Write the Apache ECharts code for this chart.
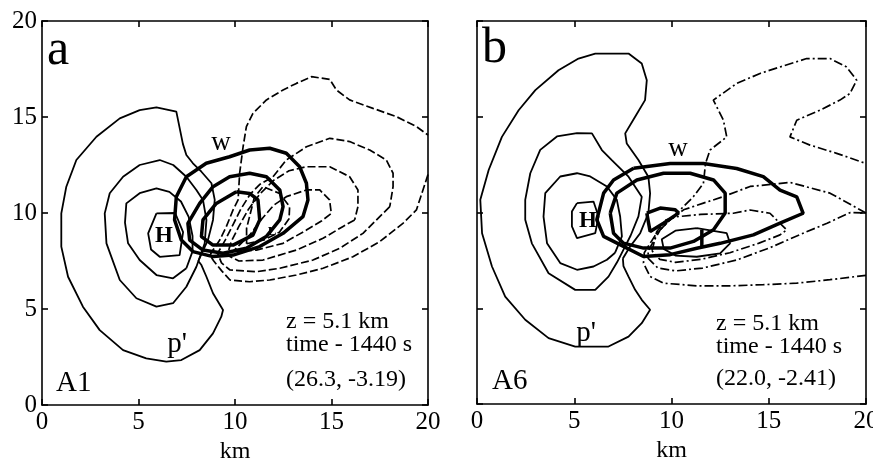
<!DOCTYPE html>
<html><head><meta charset="utf-8">
<script src="https://cdn.jsdelivr.net/npm/echarts@6/dist/echarts.min.js"></script>
<style>html,body{margin:0;padding:0;background:#fff}#c{width:873px;height:465px}</style>
</head><body><div id="c"></div>
<script>
// axis ticks
const xTicks = [0, 5, 10, 15, 20];
const yTicks = [0, 5, 10, 15, 20];

// ---- Panel a (A1): p' positive contours (solid thin), km coordinates
const pA1 = [[8.1,7.5],[8.6,8.6],[8.86,9.64],[8.95,10.68],[8.78,11.55],[8.26,12.15],[7.82,12.59],[7.48,13.02],[7.3,13.6],[6.96,15.28],[5.93,15.5],[5.06,15.36],[4.03,14.93],[2.82,13.97],[1.78,12.76],[1.26,11.37],[1.0,9.98],[1.0,8.25],[1.35,6.68],[2.12,5.12],[2.99,3.9],[4.2,2.86],[5.4,2.43],[6.44,2.26],[7.22,2.34],[8.17,2.86],[8.86,3.73],[9.29,4.6],[9.38,4.95],[8.86,5.82],[8.52,6.68],[8.26,7.29],[8.1,7.5]];
const pA2 = [[8.0,7.2],[8.43,8.42],[8.52,9.64],[8.34,10.68],[8.0,11.2],[7.48,11.89],[6.8,12.5],[6.1,12.76],[5.06,12.5],[4.2,11.89],[3.51,11.03],[3.25,9.98],[3.34,8.42],[4.03,6.51],[4.89,5.56],[5.93,5.12],[6.79,5.3],[7.48,6.16],[8.0,7.2]];
const pA3 = [[7.48,7.12],[7.8,8.0],[7.8,8.8],[7.6,9.8],[7.2,10.6],[6.6,11.1],[5.93,11.28],[5.06,11.03],[4.37,10.5],[4.3,9.5],[4.46,8.42],[5.06,7.55],[5.93,6.77],[6.79,6.6],[7.48,7.12]];
const pA4 = [[5.93,9.98],[6.9,10.0],[7.31,9.0],[7.13,7.81],[6.1,7.72],[5.65,8.1],[5.5,8.94],[5.93,9.98]];
// w contours (thick)
const wA1 = [[7.48,11.89],[6.96,10.85],[6.87,9.64],[7.22,8.59],[7.82,7.99],[8.86,7.73],[9.9,7.81],[11.28,8.25],[12.49,8.94],[13.52,9.81],[13.78,10.68],[13.7,11.55],[13.35,12.41],[12.66,13.11],[11.8,13.37],[10.76,13.28],[9.72,12.93],[8.51,12.59],[7.48,11.89]];
const wA2 = [[8.86,11.37],[8.17,10.5],[7.56,9.46],[7.65,8.59],[8.34,8.07],[9.38,7.9],[10.59,8.16],[11.62,8.77],[12.32,9.64],[12.49,10.33],[12.32,11.2],[11.63,11.89],[10.76,12.07],[9.72,11.89],[8.86,11.37]];
const wA3 = [[10.07,11.11],[9.03,10.5],[8.34,9.64],[8.26,8.77],[8.86,8.33],[9.9,8.33],[10.93,8.85],[11.28,9.64],[11.19,10.68],[10.76,11.02],[10.07,11.11]];
// negative p' contours (dashed)
const dA1 = [[20,12.0],[19.4,10.16],[18.7,9.46],[17.5,8.51],[16.11,7.72],[14.56,7.12],[13.18,6.77],[11.8,6.51],[10.76,6.42],[9.74,6.51],[9.3,7.0],[8.9,7.5],[8.7,7.8],[8.86,8.07],[9.21,8.59],[9.55,9.29],[9.9,10.16],[10.16,10.68],[10.24,12.07],[10.42,13.45],[10.59,14.5],[10.93,15.19],[11.63,15.89],[12.49,16.41],[13.18,16.75],[13.96,17.1],[14.91,16.96],[15.25,16.41],[15.94,15.89],[17.15,15.45],[18.36,15.02],[19.4,14.5],[20,14.06]];
const dA2 = [[18.02,10.33],[17.5,9.81],[16.63,8.94],[15.42,8.16],[14.04,7.55],[12.32,7.12],[11.11,6.94],[9.74,7.03],[9.3,7.4],[9.1,7.9],[9.5,8.6],[9.9,9.4],[10.3,10.2],[10.8,11.0],[11.3,11.5],[11.97,11.89],[12.66,12.76],[13.7,13.45],[14.91,13.89],[15.94,13.72],[16.98,13.28],[17.84,12.76],[18.19,12.07],[18.19,11.37],[18.02,10.33]];
const dA3 = [[16.2,9.64],[15.6,9.3],[14.56,8.68],[13.18,8.07],[11.45,7.55],[10.2,7.5],[9.6,7.8],[9.8,8.5],[10.2,9.3],[10.7,10.2],[11.3,11.0],[12.0,11.7],[12.8,12.2],[13.7,12.41],[14.91,12.41],[15.94,11.89],[16.37,11.2],[16.37,10.33],[16.2,9.64]];
const dA4 = [[9.9,8.0],[11.11,8.07],[12.49,8.42],[13.7,9.11],[14.5,9.6],[14.99,9.98],[14.9,10.68],[14.39,11.2],[13.7,11.2],[12.66,10.85],[12.0,10.4],[11.4,9.7],[10.8,8.9],[10.2,8.3],[9.9,8.0]];
const dA5 = [[10.6,8.4],[11.5,8.6],[12.3,9.0],[12.8,9.7],[12.83,10.33],[12.31,11.02],[11.45,11.37],[11.0,10.8],[10.8,10.0],[10.6,9.2],[10.6,8.4]];

// ---- Panel b (A6)
const pB1 = [[7.5,7.6],[7.87,8.22],[8.39,8.92],[8.81,9.96],[8.9,11.0],[8.81,11.87],[8.3,12.74],[7.7,13.6],[7.62,14.13],[8.13,15.0],[8.64,15.87],[8.73,16.91],[8.47,17.78],[7.79,18.3],[6.08,18.3],[5.22,18.04],[4.19,17.43],[3.0,16.39],[2.14,15.34],[1.28,13.95],[0.6,12.22],[0.17,10.66],[0.26,8.92],[0.77,7.18],[1.45,5.61],[2.48,4.4],[3.68,3.44],[5.05,3.0],[6.76,3.0],[7.79,3.52],[8.47,4.22],[8.9,4.92],[8.47,5.44],[8.13,5.96],[7.79,6.65],[7.53,7.2],[7.5,7.6]];
const pB2 = [[7.2,7.4],[7.5,8.0],[7.9,8.8],[8.3,9.8],[8.47,10.82],[7.79,11.87],[6.93,12.74],[6.42,13.26],[5.91,14.13],[5.14,14.14],[4.11,13.97],[3.25,13.27],[2.74,12.05],[2.48,10.66],[2.48,9.62],[2.82,8.39],[3.68,6.83],[5.05,5.96],[6.08,5.96],[6.76,6.65],[7.2,7.4]];
const pB3 = [[7.1,7.9],[7.45,8.75],[7.36,9.79],[7.19,10.66],[6.68,11.36],[5.82,11.88],[5.14,12.05],[4.28,11.88],[3.51,11.01],[3.42,9.79],[3.6,8.4],[4.28,7.36],[5.14,7.01],[5.99,7.18],[6.68,7.53],[7.1,7.9]];
const pB4 = [[5.14,10.49],[5.99,10.57],[6.25,9.79],[6.08,8.92],[5.14,8.66],[4.88,9.27],[4.88,10.05],[5.14,10.49]];
const pB5 = [[11.3,9.18],[12.84,8.92],[13.01,8.39],[12.5,7.87],[11.3,7.69],[10.2,7.75],[9.6,8.1],[9.5,8.6],[10.2,9.05],[11.3,9.18]];
const wB1 = [[8.05,12.31],[9.93,12.56],[11.64,12.56],[13.35,12.3],[14.72,11.87],[15.58,11.17],[16.44,10.82],[16.77,9.96],[15.58,9.44],[14.21,8.83],[12.5,8.39],[11.3,8.13],[9.93,7.8],[8.56,7.7],[7.53,8.23],[6.51,8.75],[6.16,9.62],[6.51,11.01],[7.02,11.7],[8.05,12.31]];
const wB2 = [[6.85,9.97],[7.19,11.01],[8.22,11.7],[9.59,12.05],[10.96,12.05],[12.16,11.7],[12.76,11.01],[12.76,9.97],[12.16,9.1],[11.13,8.49],[9.93,8.14],[8.56,8.14],[7.53,8.4],[7.02,8.92],[6.85,9.97]];
const wB3 = [[8.73,9.97],[9.42,10.23],[10.19,10.14],[10.36,9.97],[9.59,9.44],[8.9,9.01],[8.73,9.97]];
const wB4 = [[11.56,9.1],[11.56,8.23]];
const dB1 = [[20,6.72],[18.15,6.49],[16.44,6.31],[14.73,6.23],[13.01,6.17],[11.3,6.17],[9.59,6.31],[8.9,6.66],[8.56,7.36],[8.6,7.9],[8.9,8.39],[9.24,8.92],[9.76,9.44],[10.44,10.13],[11.12,10.82],[11.64,11.52],[11.75,12.56],[11.98,13.26],[12.84,13.95],[12.67,14.82],[12.15,15.87],[13.35,16.74],[14.55,17.26],[15.58,17.6],[16.95,18.04],[18.15,18.04],[19.0,17.6],[19.52,16.91],[19.17,16.21],[18.66,15.87],[17.63,15.34],[16.44,14.82],[16.09,13.95],[17.12,13.52],[18.49,13.09],[20,12.56]];
const dB2 = [[20,9.97],[18.15,11.01],[16.1,11.57],[14.04,11.36],[12.67,10.83],[11.64,10.49],[10.62,10.14],[9.93,9.62],[9.42,9.1],[8.8,8.0],[8.8,7.6],[9.3,7.1],[10.2,6.95],[11.6,7.1],[13.35,7.52],[15.06,8.16],[16.8,8.93],[18.0,9.44],[19.2,10.0],[20,9.97]];
const dB3 = [[9.0,8.0],[9.24,9.0],[9.7,9.6],[10.27,9.78],[11.5,9.9],[13.18,9.96],[14.04,10.13],[15.06,9.96],[15.92,9.09],[15.58,8.83],[14.5,8.4],[13.0,7.9],[11.5,7.55],[10.2,7.4],[9.4,7.55],[9.0,8.0]];

const chart = echarts.init(document.getElementById('c'), null, {renderer: 'canvas'});
const FONT = "'Liberation Serif','Times New Roman',serif";

function axisX(gi, pos, labels) {
  return {type:'value', gridIndex:gi, position:pos, min:0, max:20, interval:5,
    name: labels ? 'km' : '', nameLocation:'middle', nameGap:35,
    nameTextStyle:{color:'#000', fontFamily:FONT, fontSize:24},
    axisLine:{show:true, onZero:false, lineStyle:{color:'#000', width:1.6}},
    axisTick:{show:true, inside:true, length:6, lineStyle:{color:'#000', width:1.6}},
    axisLabel:{show:labels, color:'#000', fontFamily:FONT, fontSize:25, margin:5},
    splitLine:{show:false}};
}
function axisY(gi, pos, labels) {
  return {type:'value', gridIndex:gi, position:pos, min:0, max:20, interval:5,
    axisLine:{show:true, onZero:false, lineStyle:{color:'#000', width:1.6}},
    axisTick:{show:true, inside:true, length:6, lineStyle:{color:'#000', width:1.6}},
    axisLabel:{show:labels, color:'#000', fontFamily:FONT, fontSize:25, margin:5},
    splitLine:{show:false}};
}
function ln(data, ax, width, type) {
  return {type:'line', data:data, xAxisIndex:ax, yAxisIndex:ax, symbol:'none', showSymbol:false,
    smooth:false, silent:true, animation:false, clip:true,
    lineStyle:{color:'#000', width:width, type:type}};
}
const series = [];
[pA1,pA2,pA3,pA4].forEach(d => series.push(ln(d,0,1.8,'solid')));
[dA1,dA2,dA3,dA4,dA5].forEach(d => series.push(ln(d,0,1.7,[8,3])));
[wA1,wA2,wA3].forEach(d => series.push(ln(d,0,3.5,'solid')));
[pB1,pB2,pB3,pB4,pB5].forEach(d => series.push(ln(d,2,1.8,'solid')));
[dB1,dB2,dB3].forEach(d => series.push(ln(d,2,1.7,[9,3,2,3])));
[wB1,wB2,wB3,wB4].forEach(d => series.push(ln(d,2,3.5,'solid')));

function txt(s, x, y, size, opt) {
  opt = opt || {};
  return {type:'text', x:x, y:y, silent:true, z:100, style:{text:s, fill:'#000',
    font:(opt.bold?'bold ':'') + size + 'px ' + FONT, align:opt.align||'left', verticalAlign:'middle'}};
}

chart.setOption({
  animation:false,
  backgroundColor:'#fff',
  grid:[{left:42, top:21, width:386, height:384, containLabel:false, outerBoundsMode:'none'},
        {left:477, top:21, width:389, height:383, containLabel:false, outerBoundsMode:'none'}],
  xAxis:[axisX(0,'bottom',true), axisX(0,'top',false), axisX(1,'bottom',true), axisX(1,'top',false)],
  yAxis:[axisY(0,'left',true), axisY(0,'right',false), axisY(1,'left',false), axisY(1,'right',false)],
  series:series,
  graphic:[
    txt('a',47,51,50), txt('b',482,49,50),
    txt('A1',56,383,29), txt('A6',492,381,29),
    txt('z = 5.1 km',286,322,24), txt('time - 1440 s',286,345,24), txt('(26.3, -3.19)',286,380,24),
    txt('z = 5.1 km',716,324,24), txt('time - 1440 s',716,347,24), txt('(22.0, -2.41)',716,379,24),
    txt('w',221,143,27,{align:'center'}), txt('w',678,149,27,{align:'center'}),
    txt('H',164,236,23,{align:'center',bold:true}), txt('H',588,221,23,{align:'center',bold:true}),
    txt("p'",177,344,29,{align:'center'}), txt("p'",586,333,29,{align:'center'}),
    txt('L',272,232,13,{align:'center',bold:true})
  ]
});
</script></body></html>
